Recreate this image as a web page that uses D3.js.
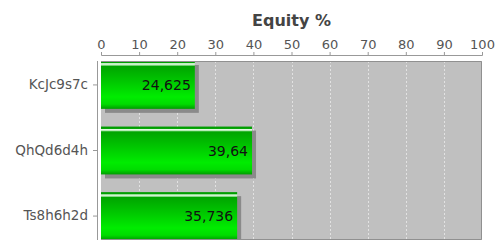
<!DOCTYPE html>
<html>
<head>
<meta charset="utf-8">
<script src="https://cdn.jsdelivr.net/npm/d3@7"></script>
<style>
  body { margin: 0; background: white; }
  svg { display: block; }
</style>
</head>
<body>
<svg id="chart"></svg>
<script>
// data
var hands = ["KcJc9s7c", "QhQd6d4h", "Ts8h6h2d"]
var equity = [24.625, 39.64, 35.736]
var labels = ["24,625", "39,64", "35,736"]
var xTicks = [0, 10, 20, 30, 40, 50, 60, 70, 80, 90, 100]

var dimensions = {
    width: 497,
    height: 244,
    margin: { top: 61, bottom: 4, right: 15, left: 101 }
}
var innerW = dimensions.width - dimensions.margin.left - dimensions.margin.right
var innerH = dimensions.height - dimensions.margin.top - dimensions.margin.bottom

var svg = d3.select("#chart")
    .attr("width", dimensions.width)
    .attr("height", dimensions.height)
    .style("font-family", "DejaVu Sans")

var defs = svg.append("defs")
var grad = defs.append("linearGradient")
    .attr("id", "barGrad")
    .attr("x1", 0).attr("y1", 0).attr("x2", 0).attr("y2", 1)
var stops = [
    [0, "#009800"], [0.04, "#00a200"], [0.055, "#f0fff0"], [0.085, "#b0e8b0"],
    [0.11, "#00a400"], [0.4, "#00c400"], [0.75, "#00ec00"], [0.9, "#00dc00"], [1, "#009c00"]
]
stops.forEach(s => grad.append("stop").attr("offset", s[0]).attr("stop-color", s[1]))

defs.append("clipPath").attr("id", "plotClip")
    .append("rect").attr("width", innerW).attr("height", innerH)

var x = d3.scaleLinear()
    .domain([0, 100])
    .range([0, innerW])

var y = d3.scaleBand()
    .domain(hands)
    .range([0, innerH])
    .paddingInner(0.27)
    .paddingOuter(0)

var g = svg.append("g")
    .attr("transform", `translate(${dimensions.margin.left},${dimensions.margin.top})`)

// plot background
g.append("rect")
    .attr("width", innerW)
    .attr("height", innerH)
    .attr("fill", "#c0c0c0")

// dashed grid
g.selectAll(".grid")
    .data(xTicks.slice(1, -1))
    .enter()
    .append("line")
    .attr("x1", d => Math.round(x(d)) + 0.5)
    .attr("x2", d => Math.round(x(d)) + 0.5)
    .attr("y1", 0)
    .attr("y2", innerH)
    .attr("stroke", "#e2e2e2")
    .attr("stroke-dasharray", "2,2")

var bars = g.append("g").attr("clip-path", "url(#plotClip)")

// shadows
bars.selectAll(".shadow")
    .data(equity)
    .enter()
    .append("rect")
    .attr("x", 4)
    .attr("y", (d, i) => y(hands[i]) + 4)
    .attr("width", d => x(d))
    .attr("height", y.bandwidth())
    .attr("fill", "#8a8a8a")

bars.selectAll(".bar")
    .data(equity)
    .enter()
    .append("rect")
    .attr("x", 0)
    .attr("y", (d, i) => y(hands[i]))
    .attr("width", d => x(d))
    .attr("height", y.bandwidth())
    .attr("fill", "url(#barGrad)")

// value labels
g.selectAll(".val")
    .data(equity)
    .enter()
    .append("text")
    .attr("x", d => x(d) - 4)
    .attr("y", (d, i) => y(hands[i]) + y.bandwidth() / 2 + 5)
    .attr("text-anchor", "end")
    .style("font-size", "14px")
    .style("fill", "#111")
    .text((d, i) => labels[i])

// plot border (top, right, bottom)
g.append("path")
    .attr("d", `M0,0.5H${innerW - 0.5}V${innerH - 0.5}H0`)
    .attr("fill", "none")
    .attr("stroke", "#909090")

// top axis
var xAxis = g.append("g")
    .attr("transform", "translate(0,-6)")
    .call(d3.axisTop(x).tickValues(xTicks).tickSize(3).tickPadding(3))
xAxis.select(".domain").attr("stroke", "#999")
xAxis.selectAll(".tick line").attr("stroke", "#999")
xAxis.selectAll("text")
    .style("font-size", "13px")
    .style("font-family", "DejaVu Sans")
    .attr("fill", "#555")

// left axis
var yAxis = g.append("g")
    .attr("transform", "translate(-4,0)")
    .call(d3.axisLeft(y).tickSize(4).tickPadding(5))
yAxis.select(".domain").attr("d", `M0.5,0V${innerH}`).attr("stroke", "#999")
yAxis.selectAll(".tick line").attr("stroke", "#999")
yAxis.selectAll("text")
    .style("font-size", "13.5px")
    .style("font-family", "DejaVu Sans")
    .attr("fill", "#555")

// title
svg.append("text")
    .attr("x", dimensions.margin.left + innerW / 2)
    .attr("y", 26)
    .attr("text-anchor", "middle")
    .style("font-size", "16px")
    .style("font-weight", "bold")
    .style("fill", "#444")
    .text("Equity %")
</script>
</body>
</html>
